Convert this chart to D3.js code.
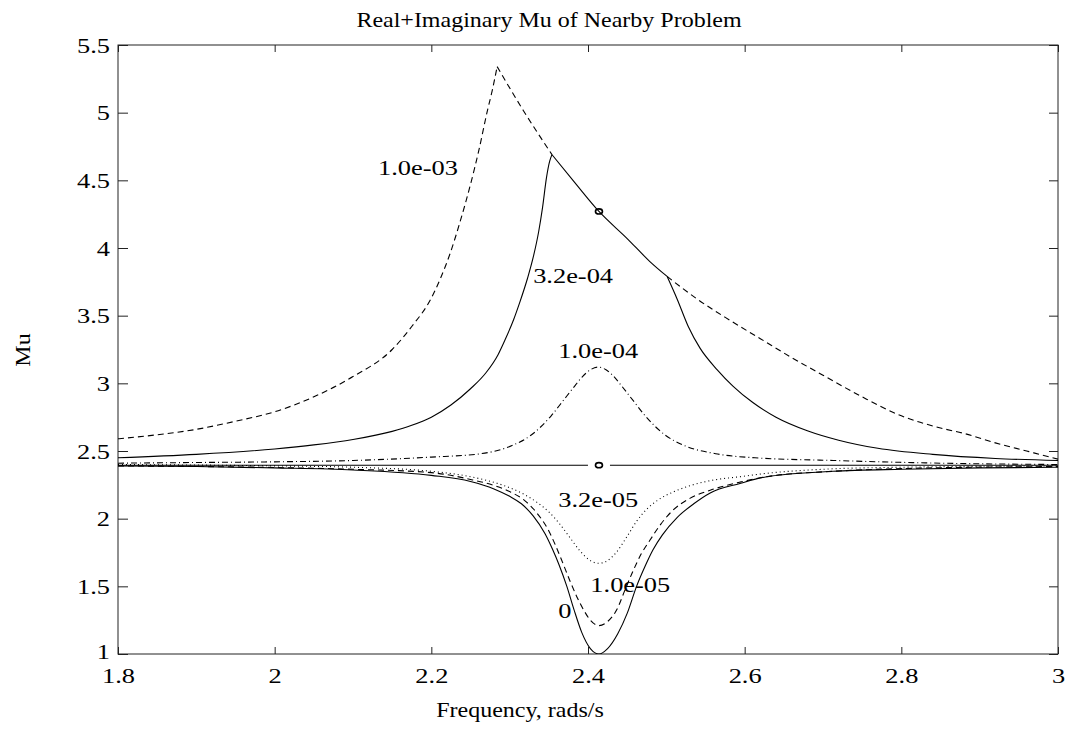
<!DOCTYPE html>
<html>
<head>
<meta charset="utf-8">
<script src="https://cdn.jsdelivr.net/npm/d3@7"></script>
<style>
  body { margin: 0; background: #fff; }
  text { font-family: "Liberation Serif", "Times New Roman", serif; fill: #000; }
</style>
</head>
<body>
<div id="chart"></div>
<script>
// ---- data (frequency in rads/s, mu) ----
var freqTicks = [1.8, 2, 2.2, 2.4, 2.6, 2.8, 3];
var freqTickLabels = ["1.8", "2", "2.2", "2.4", "2.6", "2.8", "3"];
var muTicks = [1, 1.5, 2, 2.5, 3, 3.5, 4, 4.5, 5, 5.5];
var muTickLabels = ["1", "1.5", "2", "2.5", "3", "3.5", "4", "4.5", "5", "5.5"];

// perturbation 0
var mu0 = [[1.8, 2.39], [1.9, 2.385], [2.0, 2.375], [2.1, 2.36], [2.2, 2.32], [2.25, 2.275],
  [2.28, 2.22], [2.3, 2.165], [2.315, 2.11], [2.33, 2.02], [2.345, 1.89], [2.355, 1.77],
  [2.363, 1.66], [2.373, 1.5], [2.382, 1.33], [2.392, 1.16], [2.403, 1.04], [2.414, 1.0],
  [2.425, 1.04], [2.438, 1.15], [2.45, 1.3], [2.462, 1.5], [2.473, 1.65], [2.483, 1.77],
  [2.495, 1.88], [2.514, 2.01], [2.535, 2.11], [2.556, 2.19], [2.594, 2.26], [2.628, 2.31],
  [2.713, 2.35], [2.8, 2.365], [2.9, 2.375], [3.0, 2.38]];

// perturbation 1.0e-05
var mu1e5 = [[1.8, 2.39], [2.0, 2.378], [2.1, 2.365], [2.2, 2.34], [2.25, 2.29], [2.28, 2.245],
  [2.3, 2.2], [2.32, 2.13], [2.335, 2.04], [2.348, 1.93], [2.358, 1.81], [2.368, 1.67],
  [2.377, 1.54], [2.386, 1.42], [2.395, 1.32], [2.403, 1.25], [2.414, 1.21], [2.425, 1.24],
  [2.437, 1.33], [2.447, 1.47], [2.458, 1.62], [2.468, 1.74], [2.479, 1.84], [2.493, 1.96],
  [2.508, 2.06], [2.53, 2.15], [2.556, 2.21], [2.594, 2.27], [2.628, 2.31], [2.713, 2.35],
  [2.8, 2.37], [3.0, 2.385]];

// perturbation 3.2e-05
var mu32e6 = [[1.8, 2.4], [2.0, 2.39], [2.1, 2.38], [2.2, 2.35], [2.25, 2.31], [2.29, 2.25],
  [2.315, 2.19], [2.335, 2.12], [2.35, 2.05], [2.364, 1.96], [2.377, 1.86], [2.39, 1.76],
  [2.403, 1.69], [2.414, 1.67], [2.425, 1.69], [2.436, 1.75], [2.45, 1.87], [2.462, 1.98],
  [2.475, 2.07], [2.49, 2.14], [2.51, 2.2], [2.534, 2.25], [2.56, 2.285], [2.594, 2.31],
  [2.628, 2.335], [2.7, 2.365], [2.8, 2.38], [3.0, 2.39]];

// perturbation 1.0e-04
var mu1e4 = [[1.8, 2.41], [1.9, 2.415], [2.0, 2.42], [2.1, 2.43], [2.2, 2.455], [2.263, 2.48],
  [2.303, 2.54], [2.328, 2.62], [2.353, 2.76], [2.368, 2.87], [2.383, 2.98], [2.393, 3.05],
  [2.403, 3.1], [2.413, 3.12], [2.423, 3.1], [2.433, 3.05], [2.443, 2.98], [2.458, 2.87],
  [2.473, 2.76], [2.498, 2.62], [2.523, 2.54], [2.563, 2.48], [2.613, 2.45], [2.713, 2.43],
  [2.85, 2.41], [3.0, 2.4]];

// perturbation 3.2e-04 (rise, then the shared cusp segment, then the tail)
var mu32e5Rise = [[1.8, 2.45], [1.9, 2.475], [2.0, 2.515], [2.05, 2.545], [2.1, 2.585],
  [2.15, 2.645], [2.175, 2.69], [2.2, 2.75], [2.225, 2.84], [2.25, 2.96], [2.27, 3.08],
  [2.285, 3.21], [2.294, 3.32], [2.305, 3.47], [2.313, 3.6], [2.323, 3.78], [2.33, 3.93],
  [2.337, 4.12], [2.342, 4.3], [2.347, 4.52], [2.351, 4.64], [2.354, 4.69]];
var muShared = [[2.354, 4.69], [2.385, 4.47], [2.414, 4.27], [2.45, 4.07], [2.479, 3.9], [2.501, 3.79]];
var mu32e5Tail = [[2.501, 3.79], [2.514, 3.62], [2.528, 3.42], [2.543, 3.26], [2.565, 3.1],
  [2.585, 2.98], [2.61, 2.86], [2.64, 2.75], [2.68, 2.65], [2.72, 2.58], [2.77, 2.52],
  [2.84, 2.475], [2.92, 2.445], [3.0, 2.43]];

// perturbation 1.0e-03
var mu1e3Rise = [[1.8, 2.59], [1.85, 2.62], [1.9, 2.66], [1.95, 2.72], [2.0, 2.79],
  [2.05, 2.9], [2.1, 3.05], [2.15, 3.25], [2.175, 3.42], [2.2, 3.63], [2.212, 3.78],
  [2.224, 3.96], [2.237, 4.2], [2.25, 4.47], [2.261, 4.73], [2.271, 5.0], [2.278, 5.17],
  [2.284, 5.34]];
var mu1e3Fall = [[2.284, 5.34], [2.317, 5.02], [2.354, 4.69]];
var mu1e3Tail = [[2.501, 3.79], [2.54, 3.62], [2.58, 3.47], [2.62, 3.33], [2.66, 3.19],
  [2.7, 3.06], [2.75, 2.9], [2.8, 2.76], [2.85, 2.67], [2.88, 2.63], [2.92, 2.56],
  [2.96, 2.5], [3.0, 2.44]];

// real mu (flat) and the two markers
var muReal = [[1.8, 2.395], [3.0, 2.395]];
var markers = [[2.414, 2.395], [2.414, 4.27]];

// curve labels: text, frequency, mu (left/baseline anchor)
var labels = [["1.0e-03", 2.132, 4.54], ["3.2e-04", 2.330, 3.74], ["1.0e-04", 2.362, 3.19],
  ["3.2e-05", 2.362, 2.086], ["1.0e-05", 2.403, 1.458], ["0", 2.362, 1.266]];

// ---- layout ----
var svgWidth = 1065, svgHeight = 738;
var margin = { top: 45, right: 7, bottom: 84, left: 118 };
var width = svgWidth - margin.left - margin.right;
var height = svgHeight - margin.top - margin.bottom;
var sx = 1.2; // the reference type is stretched sideways

var svg = d3.select("#chart").append("svg")
  .attr("width", svgWidth)
  .attr("height", svgHeight);

var chartGroup = svg.append("g")
  .attr("transform", `translate(${margin.left}, ${margin.top})`);

var x = d3.scaleLinear().domain([1.8, 3]).range([0, width]);
var y = d3.scaleLinear().domain([1, 5.5]).range([height, 0]);

chartGroup.append("clipPath").attr("id", "plotClip")
  .append("rect").attr("width", width).attr("height", height);

// axes with inward ticks
var bottomAxis = chartGroup.append("g")
  .attr("transform", `translate(0, ${height})`)
  .call(d3.axisBottom(x).tickValues(freqTicks).tickSize(-7).tickPadding(13)
    .tickFormat((d, i) => freqTickLabels[i]));
bottomAxis.selectAll("text")
  .style("font-size", "22px")
  .attr("transform", `scale(${sx},1)`);

var leftAxis = chartGroup.append("g")
  .call(d3.axisLeft(y).tickValues(muTicks).tickSize(-10).tickPadding(8)
    .tickFormat((d, i) => muTickLabels[i]));
leftAxis.selectAll("text")
  .style("font-size", "22px")
  .attr("x", -8 / sx)
  .attr("transform", `scale(${sx},1)`);
leftAxis.selectAll(".tick").filter(d => d === 1).select("text").attr("dy", "0.22em");

chartGroup.append("g")
  .call(d3.axisTop(x).tickValues(freqTicks).tickSize(-7).tickFormat(""));
chartGroup.append("g")
  .attr("transform", `translate(${width}, 0)`)
  .call(d3.axisRight(y).tickValues(muTicks).tickSize(-9).tickFormat(""));

chartGroup.selectAll(".domain").remove();
chartGroup.selectAll(".tick line").attr("stroke", "#222").attr("stroke-width", 1);
chartGroup.selectAll("text").attr("fill", "#000").style("font-family", "'Liberation Serif', serif");

chartGroup.append("rect")
  .attr("width", width)
  .attr("height", height)
  .attr("fill", "none")
  .attr("stroke", "#222")
  .attr("stroke-width", 1);

// curves
var line = d3.line()
  .x(d => x(d[0]))
  .y(d => y(d[1]))
  .curve(d3.curveMonotoneX);

var series = [
  { pts: muReal, dash: null },
  { pts: mu0, dash: null },
  { pts: mu1e5, dash: "6,4" },
  { pts: mu32e6, dash: "1,3" },
  { pts: mu1e4, dash: "6,3,1,3" },
  { pts: mu32e5Rise, dash: null },
  { pts: muShared, dash: null },
  { pts: mu32e5Tail, dash: null },
  { pts: mu1e3Rise, dash: "6,4" },
  { pts: mu1e3Fall, dash: "6,4" },
  { pts: mu1e3Tail, dash: "6,4" }
];

var curves = chartGroup.append("g").attr("clip-path", "url(#plotClip)");
curves.selectAll("path")
  .data(series)
  .join("path")
  .attr("d", d => line(d.pts))
  .attr("fill", "none")
  .attr("stroke", "#000")
  .attr("stroke-width", 1.1)
  .attr("stroke-dasharray", d => d.dash);

// markers; the flat line has a gap around its marker
curves.append("rect")
  .attr("x", x(markers[0][0]) - 11)
  .attr("y", y(markers[0][1]) - 4)
  .attr("width", 22)
  .attr("height", 8)
  .attr("fill", "#fff");
curves.selectAll("ellipse")
  .data(markers)
  .join("ellipse")
  .attr("cx", d => x(d[0]))
  .attr("cy", d => y(d[1]))
  .attr("rx", 3.5)
  .attr("ry", 2.6)
  .attr("fill", "none")
  .attr("stroke", "#000")
  .attr("stroke-width", 1.6);

// curve labels
chartGroup.selectAll(".curveLabel")
  .data(labels)
  .join("text")
  .attr("class", "curveLabel")
  .attr("transform", d => `translate(${x(d[1])}, ${y(d[2])}) scale(${sx},1)`)
  .style("font-size", "22px")
  .text(d => d[0]);

// title and axis labels
svg.append("text")
  .attr("transform", `translate(549, 27) scale(${sx},1)`)
  .style("text-anchor", "middle")
  .style("font-size", "20px")
  .text("Real+Imaginary Mu of Nearby Problem");

svg.append("text")
  .attr("transform", `translate(520, 717) scale(${sx},1)`)
  .style("text-anchor", "middle")
  .style("font-size", "20px")
  .text("Frequency, rads/s");

svg.append("text")
  .attr("transform", `translate(30, 350) rotate(-90) scale(${sx},1)`)
  .style("text-anchor", "middle")
  .style("font-size", "20px")
  .text("Mu");
</script>
</body>
</html>
